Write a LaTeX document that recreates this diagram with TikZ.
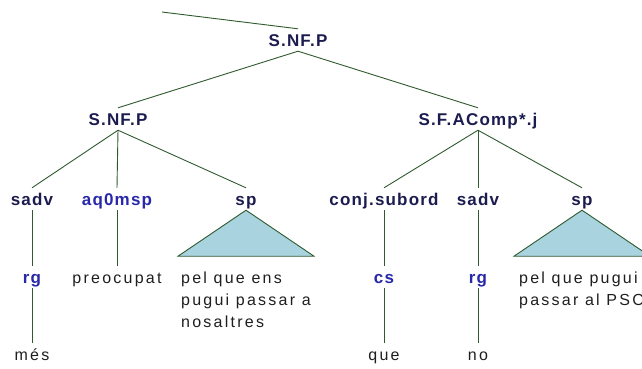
\documentclass[tikz,border=0pt]{standalone}
\usepackage{fontspec}
\setmainfont{Liberation Sans}[LetterSpace=14]
\usetikzlibrary{positioning,calc}

\definecolor{branch}{HTML}{2E5A2E}
\definecolor{catnavy}{HTML}{1B1B4F}
\definecolor{tagblue}{HTML}{2828A8}
\definecolor{wordink}{HTML}{1E1E1E}
\definecolor{roof}{HTML}{A9D3DF}

\tikzset{
  cat/.style={font=\fontsize{17}{22}\selectfont\bfseries\addfontfeature{LetterSpace=7},
    text=catnavy, anchor=base, inner xsep=0pt, inner ysep=5pt, text height=12pt, text depth=0pt},
  tag/.style={cat, text=tagblue},
  word/.style={font=\fontsize{16}{22}\selectfont, text=wordink, anchor=base,
    inner xsep=0pt, inner ysep=5pt, text height=12pt, text depth=0pt},
  phrase/.style={font=\fontsize{16}{22}\selectfont, text=wordink, anchor=north west,
    align=left, inner sep=0pt},
  branch/.style={draw=branch, line width=0.9pt},
  roofshape/.style={draw=branch, fill=roof, line width=0.9pt}
}

\begin{document}
\begin{tikzpicture}[x=1pt,y=-1pt]
  \useasboundingbox (0,0) rectangle (642,368);
  \clip (0,0) rectangle (642,368);
  % level 1
  \coordinate (up) at (162,12);
  \node[cat] (root) at (298,46) {S.NF.P};
  % level 2
  \node[cat] (snfp) at (118,125) {S.NF.P};
  \node[cat] (sfac) at (478,125) {S.F.AComp*.j};
  % level 3
  \node[cat] (sadvA) at (32,205) {sadv};
  \node[tag] (aq) at (117,205) {aq0msp};
  \node[cat] (spA) at (246,205) {sp};
  \node[cat] (conj) at (384,205) {conj.subord};
  \node[cat] (sadvB) at (478,205) {sadv};
  \node[cat] (spB) at (582,205) {sp};
  % level 4
  \node[tag] (rgA) at (32,283) {rg};
  \node[word] (preo) at (117,283) {preocupat};
  \node[tag] (cs) at (384,283) {cs};
  \node[tag] (rgB) at (478,283) {rg};
  \node[phrase] (phA) at (181,271.5) {pel que ens\\pugui passar a\\nosaltres};
  \node[phrase] (phB) at (519,271.5) {pel que pugui\\passar al PSC};
  % level 5
  \node[word] (mes) at (32,360) {més};
  \node[word] (que) at (384,360) {que};
  \node[word] (no) at (478,360) {no};

  \draw[branch] (up) -- (root.north);
  \draw[branch] (root.south) -- (snfp.north);
  \draw[branch] (root.south) -- (sfac.north);
  \foreach \k in {sadvA,aq,spA} \draw[branch] (snfp.south) -- (\k.north);
  \foreach \k in {conj,sadvB,spB} \draw[branch] (sfac.south) -- (\k.north);
  \draw[branch] (sadvA.south) -- (rgA.north);
  \draw[branch] (rgA.south) -- (mes.north);
  \draw[branch] (aq.south) -- (preo.north);
  \draw[branch] (conj.south) -- (cs.north);
  \draw[branch] (cs.south) -- (que.north);
  \draw[branch] (sadvB.south) -- (rgB.north);
  \draw[branch] (rgB.south) -- (no.north);
  \draw[roofshape] (spA.south) -- ++(-68,46) -- ++(136,0) -- cycle;
  \draw[roofshape] (spB.south) -- ++(-68,46) -- ++(136,0) -- cycle;
\end{tikzpicture}
\end{document}
